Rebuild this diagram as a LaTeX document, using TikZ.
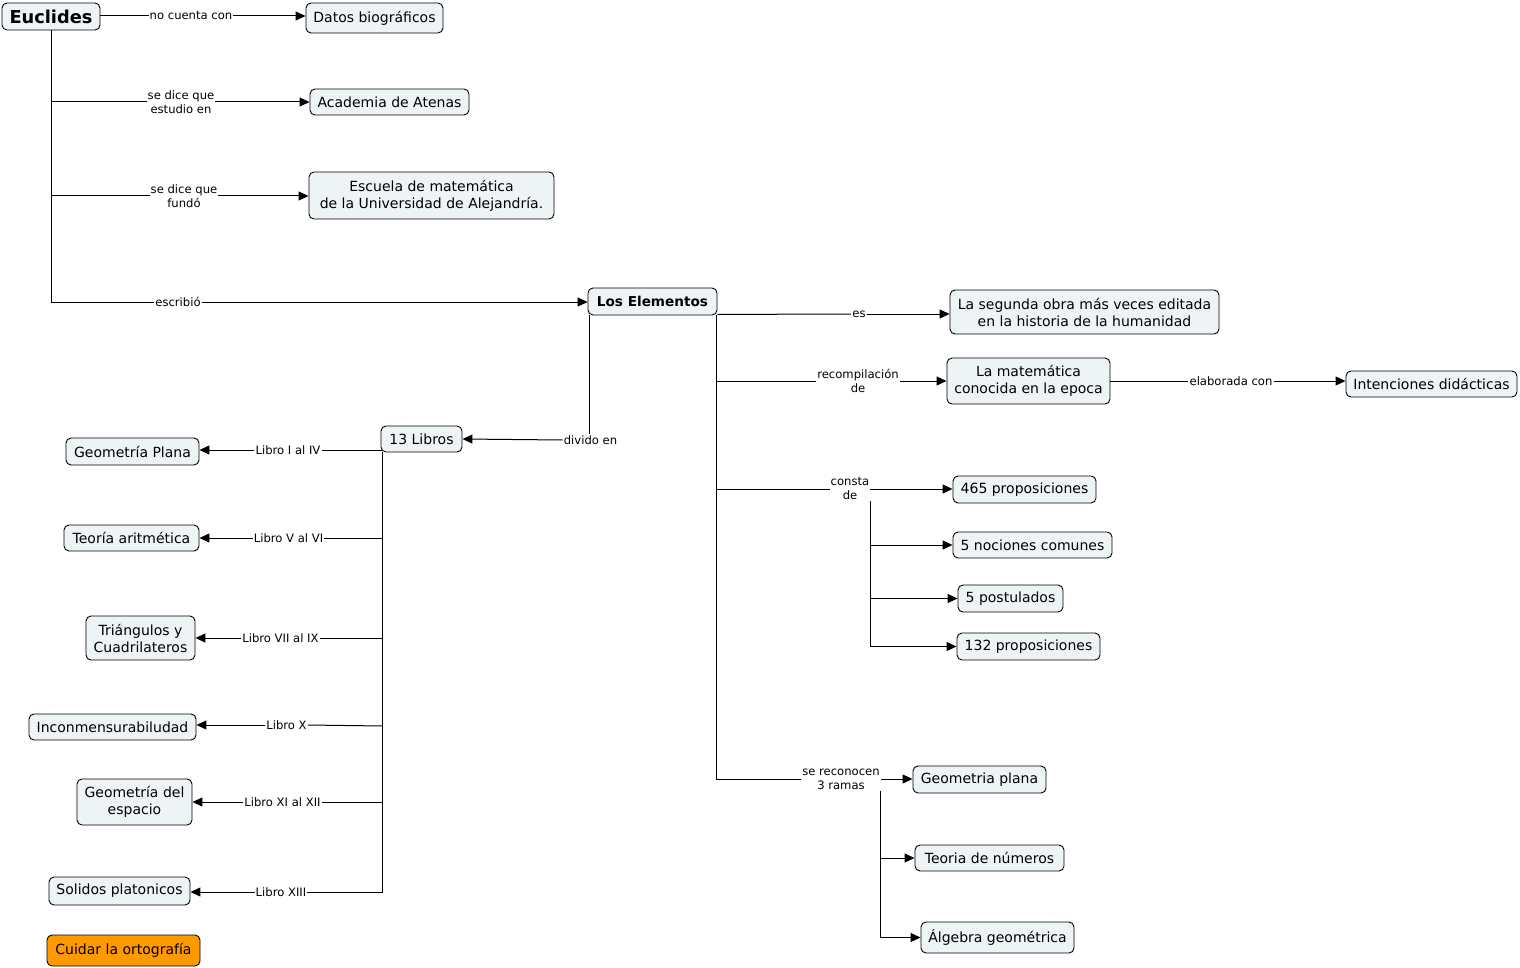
\documentclass[tikz,border=0pt]{standalone}
\usepackage{fontspec}
\setmainfont{DejaVu Sans}
\usetikzlibrary{arrows.meta}
\definecolor{nfill}{RGB}{238,244,246}
\definecolor{ofill}{RGB}{255,153,0}
\tikzset{
 cnode/.style={draw=black, line width=0.9pt, rounded corners=5pt, fill=nfill, inner sep=2pt, align=center, font=\fontsize{14}{17}\selectfont},
 lbl/.style={fill=white, inner sep=1pt, align=center, font=\fontsize{11.6}{14}\selectfont},
 conn/.style={line width=1pt},
 arr/.style={conn, -{Triangle[length=10pt,width=9pt]}}
}
\begin{document}
\begin{tikzpicture}[x=1pt,y=-1pt]
\useasboundingbox (0,0) rectangle (1520,968);
% concept nodes
\node[cnode, font=\bfseries\fontsize{17.8}{20}\selectfont, minimum width=98pt, minimum height=27pt] (eu) at (51,16.5) {Euclides};
\node[cnode, minimum width=137pt, minimum height=30pt] (datos) at (374.5,18) {Datos biográficos};
\node[cnode, minimum width=159pt, minimum height=26pt] (acad) at (389.5,102) {Academia de Atenas};
\node[cnode, minimum width=245pt, minimum height=47pt] (escu) at (431.5,195.5) {Escuela de matemática\\de la Universidad de Alejandría.};
\node[cnode, font=\bfseries\fontsize{13.6}{16}\selectfont, minimum width=129pt, minimum height=27pt] (le) at (652.5,301.5) {Los Elementos};
\node[cnode, minimum width=269pt, minimum height=44pt] (seg) at (1084.5,312) {La segunda obra más veces editada\\en la historia de la humanidad};
\node[cnode, minimum width=163pt, minimum height=46pt] (mat) at (1028.5,381) {La matemática\\conocida en la epoca};
\node[cnode, minimum width=171pt, minimum height=26pt] (inten) at (1431.5,384) {Intenciones didácticas};
\node[cnode, minimum width=143pt, minimum height=27pt] (p465) at (1024.5,489.5) {465 proposiciones};
\node[cnode, minimum width=159pt, minimum height=26pt] (noc) at (1032.5,545) {5 nociones comunes};
\node[cnode, minimum width=105pt, minimum height=27pt] (post) at (1010.5,598.5) {5 postulados};
\node[cnode, minimum width=143pt, minimum height=27pt] (p132) at (1028.5,646.5) {132 proposiciones};
\node[cnode, minimum width=133pt, minimum height=27pt] (gpl) at (979.5,779.5) {Geometria plana};
\node[cnode, minimum width=149pt, minimum height=26pt] (tnum) at (989.5,858) {Teoria de números};
\node[cnode, minimum width=153pt, minimum height=31pt] (alg) at (997.5,937.5) {Álgebra geométrica};
\node[cnode, minimum width=81pt, minimum height=26pt] (libros) at (421.5,439) {13 Libros};
\node[cnode, minimum width=133pt, minimum height=27pt] (gp) at (132.5,451.5) {Geometría Plana};
\node[cnode, minimum width=135pt, minimum height=26pt] (ta) at (131.5,538) {Teoría aritmética};
\node[cnode, minimum width=109pt, minimum height=44pt] (tri) at (140.5,638) {Triángulos y\\Cuadrilateros};
\node[cnode, minimum width=167pt, minimum height=26pt] (inc) at (112.5,727) {Inconmensurabiludad};
\node[cnode, minimum width=115pt, minimum height=46pt] (ge) at (134.5,802) {Geometría del\\espacio};
\node[cnode, minimum width=141pt, minimum height=28pt] (sol) at (119.5,891) {Solidos platonicos};
\node[cnode, fill=ofill, minimum width=153pt, minimum height=31pt] (cuid) at (123.5,950.5) {Cuidar la ortografía};
% link labels
\node[lbl] (l1) at (191,16) {no cuenta con};
\node[lbl] (l2) at (181,102) {se dice que\\estudio en};
\node[lbl] (l3) at (184,196) {se dice que\\fundó};
\node[lbl] (l4) at (178,302) {escribió};
\node[lbl] (l5) at (859,314) {es};
\node[lbl] (l6) at (858,381) {recompilación\\de};
\node[lbl] (l7) at (1231,381) {elaborada con};
\node[lbl] (l8) at (850,489) {consta\\de};
\node[lbl] (l9) at (841,779) {se reconocen\\3 ramas};
\node[lbl] (l10) at (590.5,440) {divido en};
\node[lbl] (b1) at (288,450) {Libro I al IV};
\node[lbl] (b2) at (288.5,538) {Libro V al VI};
\node[lbl] (b3) at (280.5,638) {Libro VII al IX};
\node[lbl] (b4) at (286.5,725) {Libro X};
\node[lbl] (b5) at (282.5,802) {Libro XI al XII};
\node[lbl] (b6) at (281,892) {Libro XIII};
% Euclides links
\draw[conn] (eu.east |- l1) -- (l1.west);
\draw[arr] (l1.east) -- (l1.east -| datos.west);
\draw[conn] (eu.south) -- (eu.south |- l4);
\draw[conn] (eu.south |- l2) -- (l2.west);
\draw[arr] (l2.east) -- (l2.east -| acad.west);
\draw[conn] (eu.south |- l3) -- (l3.west);
\draw[arr] (l3.east) -- (l3.east -| escu.west);
\draw[conn] (eu.south |- l4) -- (l4.west);
\draw[arr] (l4.east) -- (l4.east -| le.west);
% Los Elementos left
\coordinate (leL) at ([xshift=2pt]le.south west);
\draw[conn] (leL) -- (leL |- l10.north);
\draw[arr] (l10.west) -- (libros.east);
% Los Elementos right
\coordinate (leR) at ([xshift=-1pt]le.south east);
\draw[conn] (leR) -- (leR |- l9);
\draw[conn] ([yshift=1pt]le.south east) -- (l5.west);
\draw[arr] (l5.east) -- (l5.east -| seg.west);
\draw[conn] (leR |- l6) -- (l6.west);
\draw[arr] (l6.east) -- (l6.east -| mat.west);
\draw[conn] (mat.east |- l7) -- (l7.west);
\draw[arr] (l7.east) -- (l7.east -| inten.west);
\draw[conn] (leR |- l8) -- (l8.west);
\draw[arr] (l8.east) -- (l8.east -| p465.west);
\coordinate (cT) at (l8.south east);
\draw[conn] (cT) -- (cT |- p132);
\draw[arr] (cT |- noc) -- (noc.west);
\draw[arr] (cT |- post) -- (post.west);
\draw[arr] (cT |- p132) -- (p132.west);
\draw[conn] (leR |- l9) -- (l9.west);
\draw[arr] (l9.east) -- (l9.east -| gpl.west);
\coordinate (rT) at (l9.south east);
\draw[conn] (rT) -- (rT |- alg);
\draw[arr] (rT |- tnum) -- (tnum.west);
\draw[arr] (rT |- alg) -- (alg.west);
% 13 Libros
\coordinate (lT) at ([xshift=2pt]libros.south west);
\draw[conn] (lT) -- (lT |- b6);
\draw[conn] (lT |- b1) -- (b1.east);
\draw[arr] (b1.west) -- (b1.west -| gp.east);
\draw[conn] (lT |- b2) -- (b2.east);
\draw[arr] (b2.west) -- (b2.west -| ta.east);
\draw[conn] (lT |- b3) -- (b3.east);
\draw[arr] (b3.west) -- (b3.west -| tri.east);
\draw[conn] ([yshift=-1pt]lT |- b4) -- (b4.east);
\draw[arr] (b4.west) -- (b4.west -| inc.east);
\draw[conn] (lT |- b5) -- (b5.east);
\draw[arr] (b5.west) -- (b5.west -| ge.east);
\draw[conn] (lT |- b6) -- (b6.east);
\draw[arr] (b6.west) -- (b6.west -| sol.east);
\end{tikzpicture}
\end{document}
